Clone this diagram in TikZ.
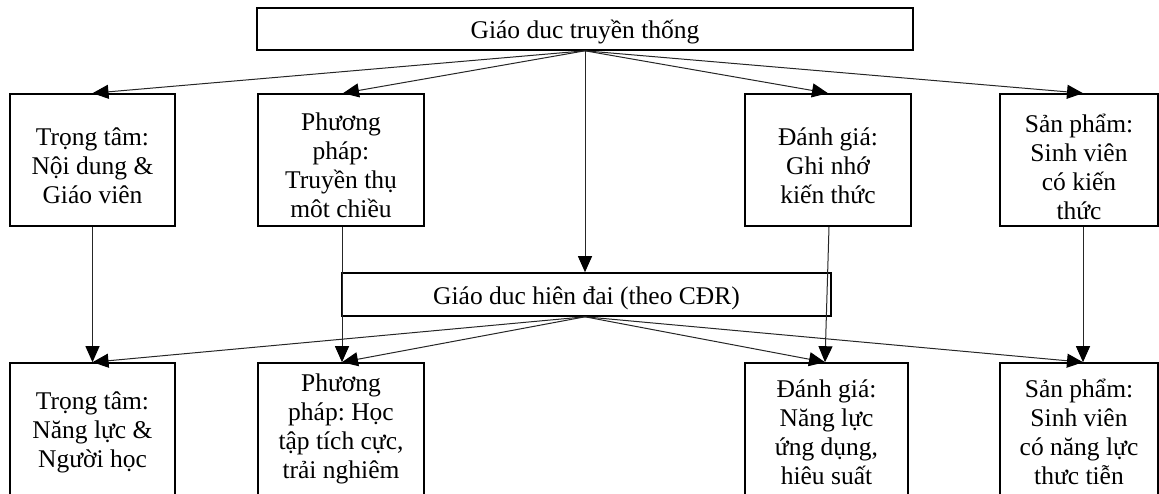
\documentclass[tikz,border=0pt]{standalone}
\usepackage{fontspec}
\setmainfont{Liberation Serif}
\frenchspacing
\usetikzlibrary{arrows.meta,calc}
\tikzset{
  box/.style={draw=black, line width=1.6pt, inner sep=0pt, minimum height=132pt},
  bar/.style={draw=black, line width=1.6pt, inner sep=0pt},
  txt/.style={inner sep=0pt, align=center, font=\fontsize{25.5}{29}\selectfont},
  conn/.style={draw=black!85, line width=1pt, -{Triangle[length=16pt,width=14pt,color=black]}}
}
\begin{document}
\begin{tikzpicture}[x=1pt,y=-1pt]
\useasboundingbox (0,0) rectangle (1159,493);
% top and middle bars
\node[bar, minimum width=656pt, minimum height=42pt] (top) at (585,29) {};
\node[txt] (topt) at ($(top)+(0,3)$) {Giáo duc truyền thống};
\node[bar, minimum width=489pt, minimum height=43pt] (mid) at (586.5,294.5) {};
\node[txt] (midt) at ($(mid)+(0,4)$) {Giáo duc hiên đai (theo CĐR)};
% row 1
\node[box, minimum width=165pt] (a1) at (92.5,160) {};
\node[box, minimum width=166pt] (a2) at (341,160) {};
\node[box, minimum width=166pt] (a3) at (828,160) {};
\node[box, minimum width=158pt] (a4) at (1079,160) {};
\node[txt] (a1t) at ($(a1)+(0,6)$) {Trọng tâm:\\Nội dung \&\\Giáo viên};
\node[txt] (a2t) at ($(a2)+(0,5)$) {Phương\\pháp:\\Truyền thụ\\môt chiều};
\node[txt] (a3t) at ($(a3)+(0,6)$) {Đánh giá:\\Ghi nhớ\\kiến thức};
\node[txt] (a4t) at ($(a4)+(0,7)$) {Sản phẩm:\\Sinh viên\\có kiến\\thức};
% row 2
\node[box, minimum width=165pt] (b1) at (92.5,429) {};
\node[box, minimum width=166pt] (b2) at (341,429) {};
\node[box, minimum width=163pt] (b3) at (826.5,429) {};
\node[box, minimum width=158pt] (b4) at (1079,429) {};
\node[txt] (b1t) at ($(b1)+(0,3)$) {Trọng tâm:\\Năng lực \&\\Người học};
\node[txt] (b2t) at ($(b2)+(0,0)$) {Phương\\pháp: Học\\tập tích cực,\\trải nghiêm};
\node[txt] (b3t) at ($(b3)+(0,3)$) {Đánh giá:\\Năng lực\\ứng dụng,\\hiêu suất};
\node[txt] (b4t) at ($(b4)+(0,3)$) {Sản phẩm:\\Sinh viên\\có năng lực\\thưc tiễn};
% connectors from top
\draw[conn] (top.south) -- (a1.north);
\draw[conn] (top.south) -- ($(a2.north)+(2,0)$);
\draw[conn] (top.south) -- (a3.north);
\draw[conn] (top.south) -- ($(a4.north)+(4,0)$);
\draw[conn] (top.south) -- (mid.north -| top.south);
% verticals
\draw[conn] (a1.south) -- (b1.north);
\draw[conn] ($(a2.south)+(1,0)$) -- ($(b2.north)+(1,0)$);
\draw[conn] ($(a3.south)+(1,0)$) -- ($(b3.north)+(-1.5,0)$);
\draw[conn] ($(a4.south)+(4,0)$) -- ($(b4.north)+(4,0)$);
% connectors from middle
\draw[conn] (mid.south -| top.south) -- (b1.north);
\draw[conn] (mid.south -| top.south) -- ($(b2.north)+(1,0)$);
\draw[conn] (mid.south -| top.south) -- ($(b3.north)+(-1.5,0)$);
\draw[conn] (mid.south -| top.south) -- ($(b4.north)+(4,0)$);
\end{tikzpicture}
\end{document}
